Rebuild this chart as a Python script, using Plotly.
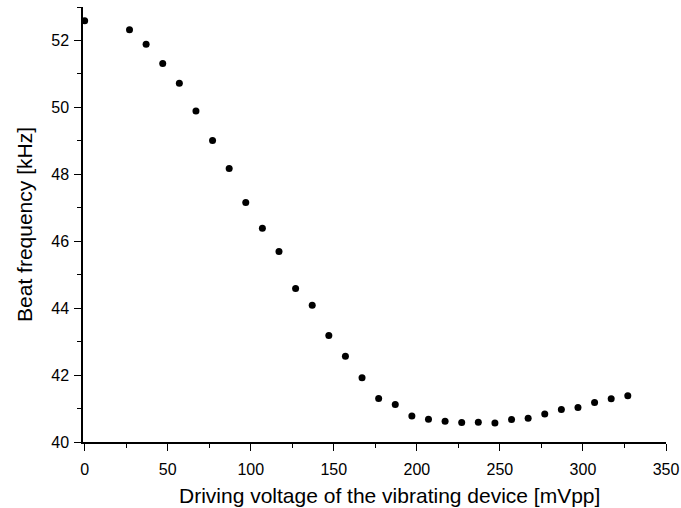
import plotly.graph_objects as go

voltage = [0, 27, 37, 47, 57, 67, 77, 87, 97, 107, 117, 127, 137, 147, 157, 167,
           177, 187, 197, 207, 217, 227, 237, 247, 257, 267, 277, 287, 297, 307, 317, 327]
beat_freq = [52.59, 52.32, 51.89, 51.31, 50.72, 49.89, 49.01, 48.17, 47.16, 46.39,
             45.69, 44.59, 44.09, 43.18, 42.56, 41.92, 41.30, 41.12, 40.78, 40.68,
             40.62, 40.58, 40.59, 40.57, 40.67, 40.71, 40.84, 40.97, 41.03, 41.18,
             41.29, 41.38]

x_title = "Driving voltage of the vibrating device [mVpp]"
y_title = "Beat frequency [kHz]"

fig = go.Figure()
fig.add_trace(go.Scatter(
    x=voltage, y=beat_freq, mode="markers",
    marker=dict(color="black", size=7, line=dict(width=0)),
    showlegend=False, cliponaxis=False,
))

font = dict(family="Liberation Sans, Arial, sans-serif", color="black")
fig.update_layout(
    width=681, height=508,
    margin=dict(l=83, r=15, t=7, b=66),
    paper_bgcolor="white", plot_bgcolor="white",
    font=font,
    xaxis=dict(
        range=[-1, 350], tickvals=[0, 50, 100, 150, 200, 250, 300, 350],
        automargin=False,
        showgrid=False, zeroline=False, showline=True, linecolor="black", linewidth=1.5,
        ticks="outside", ticklen=7, tickwidth=1.3, tickcolor="black",
        tickfont=dict(size=16, **font), ticklabelstandoff=5,
        minor=dict(tickvals=[25, 75, 125, 175, 225, 275, 325], ticks="outside",
                   ticklen=4, tickwidth=1.3, tickcolor="black", showgrid=False),
    ),
    yaxis=dict(
        range=[40, 53], tickvals=[40, 42, 44, 46, 48, 50, 52],
        automargin=False,
        showgrid=False, zeroline=False, showline=True, linecolor="black", linewidth=1.5,
        ticks="outside", ticklen=7, tickwidth=1.3, tickcolor="black",
        tickfont=dict(size=16, **font), ticklabelstandoff=2,
        minor=dict(tickvals=[41, 43, 45, 47, 49, 51, 53], ticks="outside",
                   ticklen=4, tickwidth=1.3, tickcolor="black", showgrid=False),
        title=dict(text=y_title, font=dict(size=21, **font), standoff=13),
    ),
    annotations=[dict(
        text=x_title, xref="paper", yref="paper", x=0.525, y=-0.122,
        xanchor="center", yanchor="middle", showarrow=False,
        font=dict(size=21, **font),
    )],
)
fig.write_html("out.html", config={"displayModeBar": False},
               post_script="document.body.style.margin='0';document.body.style.overflow='hidden';")
